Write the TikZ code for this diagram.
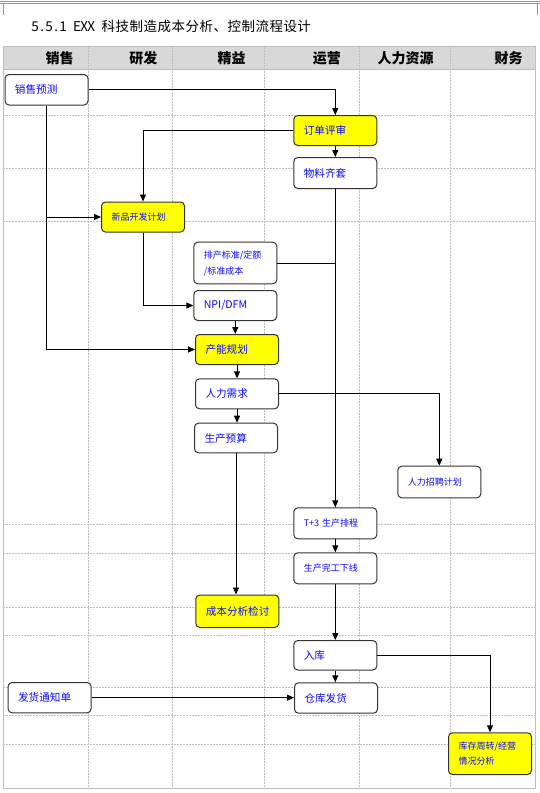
\documentclass[tikz,border=0pt]{standalone}
\usepackage{fontspec}
\setmainfont{Noto Sans CJK SC}
\usetikzlibrary{arrows.meta}
\definecolor{boxblue}{RGB}{10,10,255}
\definecolor{gridgray}{RGB}{190,190,190}
\definecolor{headgray}{RGB}{216,216,216}
\definecolor{boxyellow}{RGB}{255,255,0}
\definecolor{topgray}{RGB}{150,150,150}
\newcommand{\hwc}[1]{\makebox[7pt][c]{#1}}
\begin{document}
\begin{tikzpicture}[x=1pt,y=-1pt,
  lane/.style={draw=gridgray, line width=0.7pt, dash pattern=on 2pt off 1pt},
  flowbox/.style={draw=black!80, line width=1pt, rounded corners=4pt, anchor=north west,
    text width=63pt, inner xsep=10pt, inner ysep=0pt, align=left,
    font=\fontsize{10.6}{13}\selectfont, text=boxblue, fill=white,
    minimum width=83pt, minimum height=#1},
  flowbox/.default=30pt,
  smalltext/.style={font=\fontsize{9}{16}\selectfont},
  hl/.style={fill=boxyellow},
  arr/.style={draw=black, line width=0.9pt, -{Triangle[length=7pt,width=6pt]}},
  conn/.style={draw=black, line width=0.9pt},
  head/.style={font=\fontsize{14}{16}\selectfont\bfseries, anchor=east, inner sep=0pt}
]
\useasboundingbox (0,0) rectangle (540,793);
\fill[white] (0,0) rectangle (540,793);

% page header decoration
\draw[topgray, line width=0.6pt] (0,1.7) -- (540,1.7);
\draw[topgray, line width=0.6pt] (0,3.7) -- (540,3.7);
\draw[topgray, line width=0.6pt] (2.8,4) -- (2.8,15);
\draw[topgray, line width=0.6pt] (537.5,4) -- (537.5,15);

% title
\node[anchor=west, inner sep=0pt, font=\fontsize{13.5}{16}\selectfont] (title) at (31.5,26.5)
  {\hwc{5}\hwc{.}\hwc{5}\hwc{.}\hwc{1}\hwc{ }\hwc{E}\hwc{X}\hwc{X}\hwc{ }{\addfontfeatures{LetterSpace=3.6}科技制造成本分析、控制流程设计}};

% header row
\fill[headgray] (3.3,46.5) rectangle (535.5,69.5);
\draw[gridgray, line width=0.8pt] (3.3,69.5) -- (535.5,69.5);

% grid
\foreach \yy in {115.5,168.5,221.5,524,553,607,635,687,715.5,744.5}
  \draw[lane] (3.3,\yy) -- (535.5,\yy);
\foreach \xx in {88.5,172,264,359,450}
  \draw[lane] (\xx,46.5) -- (\xx,788.5);
\draw[gridgray, line width=0.8pt] (3.3,46.5) rectangle (535.5,788.5);

% header labels
\node[head] (h1) at (73.7,58) {销售};
\node[head] (h2) at (157.5,58) {研发};
\node[head] (h3) at (245.8,58) {精益};
\node[head] (h4) at (341,58) {运营};
\node[head] (h5) at (433.7,58) {人力资源};
\node[head] (h6) at (522.7,58) {财务};

% boxes
\node[flowbox=30.5pt] (sp) at (4.5,74) {销售预测};
\node[flowbox, hl] (ddps) at (293.3,115) {订单评审};
\node[flowbox=31pt] (wlqt) at (293.3,157) {物料齐套};
\node[flowbox, hl, smalltext] (xpkf) at (101,201.5) {新品开发计划};
\node[flowbox=41.6pt, smalltext] (pcbz) at (193.3,241.7) {排产标准/定额\\/标准成本};
\node[flowbox] (npi) at (193.3,290) {NPI/DFM};
\node[flowbox, hl] (cngh) at (195,334) {产能规划};
\node[flowbox] (rlxq) at (195,378.3) {人力需求};
\node[flowbox=29.6pt] (scys) at (194,422.7) {生产预算};
\node[flowbox=31.6pt, smalltext] (rlzp) at (397.3,465.7) {人力招聘计划};
\node[flowbox=31pt, smalltext] (t3) at (293.3,507.3) {T+3 生产排程};
\node[flowbox=31pt, smalltext] (scwg) at (293.3,552.3) {生产完工下线};
\node[flowbox=32.5pt, hl] (cbfx) at (195.3,594.5) {成本分析检讨};
\node[flowbox=29.5pt] (rk) at (293.3,640) {入库};
\node[flowbox=30.3pt] (fhtz) at (7.6,682) {发货通知单};
\node[flowbox=30.4pt] (ckfh) at (294,682.3) {仓库发货};
\node[flowbox=41.7pt, hl, smalltext, font=\fontsize{9}{15}\selectfont] (kczz) at (448,732.3) {库存周转/经营\\情况分析};

% connectors
\draw[arr] (sp.east) -| (ddps.north);
\draw[arr] (ddps.south) -- (wlqt.north);
\draw[arr] (ddps.west) -| (xpkf.north);
\draw[arr] (sp.south) |- (cngh.west);
\draw[arr] (sp.south |- xpkf.west) -- (xpkf.west);
\draw[arr] (xpkf.south) |- (npi.west);
\draw[arr] (npi.south) -- (npi.south |- cngh.north);
\draw[arr] (cngh.south) -- (cngh.south |- rlxq.north);
\draw[arr] (rlxq.south) -- (rlxq.south |- scys.north);
\draw[conn] (pcbz.east) -- (pcbz.east -| wlqt.south);
\draw[arr] (wlqt.south) -- (wlqt.south |- t3.north);
\draw[arr] (rlxq.east) -| (rlzp.north);
\draw[arr] (scys.south) -- (scys.south |- cbfx.north);
\draw[arr] (t3.south) -- (t3.south |- scwg.north);
\draw[arr] (scwg.south) -- (scwg.south |- rk.north);
\draw[arr] (rk.south) -- (rk.south |- ckfh.north);
\draw[arr] (rk.east) -| (kczz.north);
\draw[arr] (fhtz.east) -- (fhtz.east -| ckfh.west);
\end{tikzpicture}
\end{document}
